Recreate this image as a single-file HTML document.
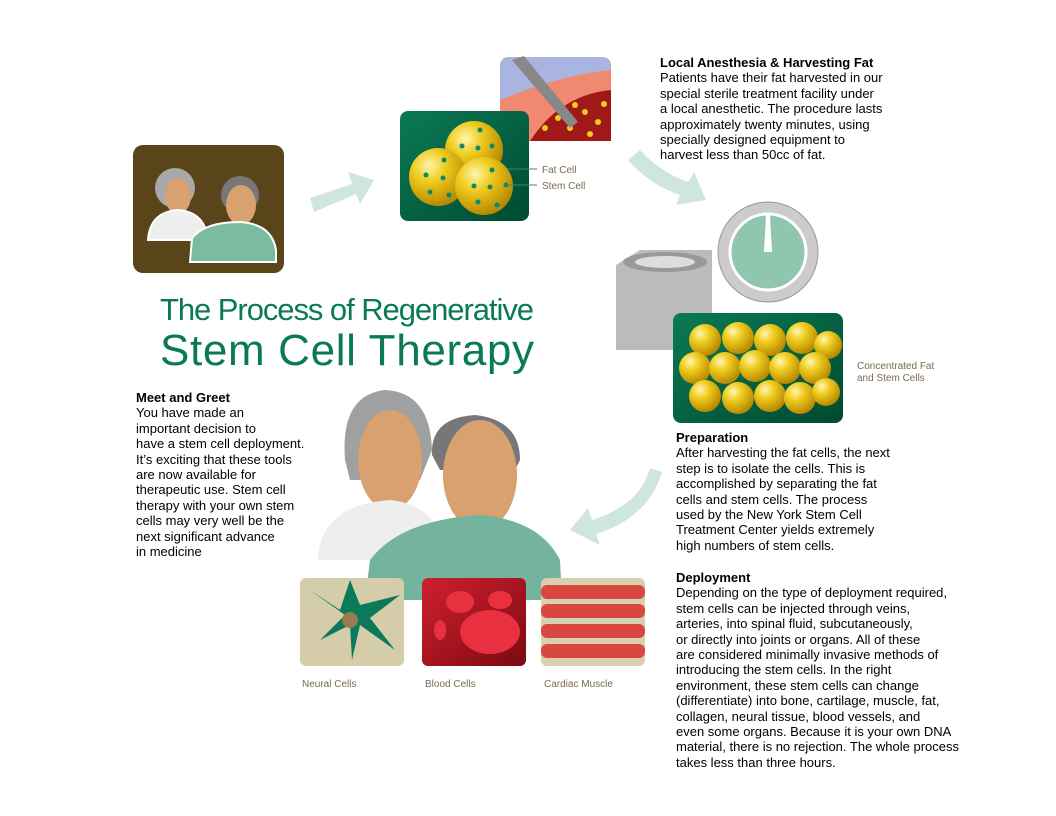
<!DOCTYPE html>
<html><head><meta charset="utf-8"><style>
body{margin:0;width:1056px;height:816px;background:#fff;position:relative;overflow:hidden;font-family:"Liberation Sans",sans-serif}
.t{position:absolute;font-size:13px;line-height:15.4px;color:#000;white-space:nowrap}
.t b{font-weight:bold}
svg{position:absolute;left:0;top:0}
</style></head><body>
<svg width="1056" height="816" viewBox="0 0 1056 816">
<defs>
<radialGradient id="y" cx="35%" cy="30%" r="70%"><stop offset="0" stop-color="#fff6b0"/><stop offset=".4" stop-color="#f0cc20"/><stop offset="1" stop-color="#b88a00"/></radialGradient>
<linearGradient id="g" x1="0" y1="0" x2="1" y2="1"><stop offset="0" stop-color="#0a7a55"/><stop offset="1" stop-color="#004a30"/></linearGradient>
<linearGradient id="r" x1="0" y1="0" x2="1" y2="1"><stop offset="0" stop-color="#d02030"/><stop offset="1" stop-color="#7a0a10"/></linearGradient>
</defs>
<!-- couple box -->
<rect x="133" y="145" width="151" height="128" rx="10" fill="#5a4419"/>
<circle cx="175" cy="188" r="20" fill="#a8a8a8"/><ellipse cx="178" cy="196" rx="13" ry="18" fill="#d9a070"/>
<path d="M148 240 Q150 212 178 210 Q205 212 208 240 Z" fill="#eee" stroke="#fff" stroke-width="2"/>
<circle cx="240" cy="195" r="19" fill="#777"/><ellipse cx="241" cy="205" rx="15" ry="20" fill="#d9a070"/>
<path d="M190 262 L192 238 Q205 222 240 222 Q272 224 276 250 L276 262 Z" fill="#7bbba2" stroke="#fff" stroke-width="2"/>
<!-- arrow 1 -->
<polygon points="310,198 352,184 348,172 374,180 360,204 356,194 314,212" fill="#cfe5df"/>
<!-- needle box -->
<rect x="500" y="57" width="111" height="84" rx="8" fill="#aab4e0"/>
<path d="M500 100 Q560 75 611 70 L611 141 L500 141 Z" fill="#ef8a70"/>
<path d="M530 141 Q560 95 611 90 L611 141 Z" fill="#a01818"/>
<g fill="#f0cc20"><circle cx="545" cy="128" r="3"/><circle cx="558" cy="118" r="3"/><circle cx="570" cy="128" r="3"/><circle cx="585" cy="112" r="3"/><circle cx="598" cy="122" r="3"/><circle cx="590" cy="134" r="3"/><circle cx="604" cy="104" r="3"/><circle cx="575" cy="105" r="3"/></g>
<polygon points="512,60 524,56 578,122 570,128" fill="#888"/>
<!-- fat cell box -->
<rect x="400" y="111" width="129" height="110" rx="8" fill="url(#g)"/>
<circle cx="474" cy="150" r="29" fill="url(#y)"/><circle cx="438" cy="177" r="29" fill="url(#y)"/><circle cx="484" cy="186" r="29" fill="url(#y)"/>
<g fill="#0a8a6a"><circle cx="480" cy="130" r="2.5"/><circle cx="462" cy="146" r="2.5"/><circle cx="478" cy="148" r="2.5"/><circle cx="492" cy="146" r="2.5"/><circle cx="444" cy="160" r="2.5"/><circle cx="426" cy="175" r="2.5"/><circle cx="443" cy="178" r="2.5"/><circle cx="430" cy="192" r="2.5"/><circle cx="449" cy="195" r="2.5"/><circle cx="492" cy="170" r="2.5"/><circle cx="474" cy="186" r="2.5"/><circle cx="490" cy="187" r="2.5"/><circle cx="506" cy="185" r="2.5"/><circle cx="478" cy="202" r="2.5"/><circle cx="497" cy="205" r="2.5"/></g>
<line x1="508" y1="169" x2="537" y2="169" stroke="#2a8a7a"/><line x1="506" y1="185" x2="537" y2="185" stroke="#2a8a7a"/>
<text x="542" y="173" font-size="10" fill="#7a6a50" font-family="Liberation Sans">Fat Cell</text>
<text x="542" y="189" font-size="10" fill="#7a6a50" font-family="Liberation Sans">Stem Cell</text>
<!-- arrow 2 -->
<path d="M628 160 Q650 185 680 195 L676 205 L706 200 L694 172 L688 182 Q660 172 640 150 Z" fill="#cfe5df"/>
<!-- timer -->
<circle cx="768" cy="252" r="50" fill="#ccc" stroke="#999"/><circle cx="768" cy="252" r="38" fill="#8ec6b0" stroke="#fff" stroke-width="3"/>
<polygon points="766,215 770,215 772,252 764,252" fill="#fff"/>
<!-- centrifuge -->
<polygon points="616,265 640,250 712,250 712,350 616,350" fill="#bbb"/><ellipse cx="665" cy="262" rx="42" ry="10" fill="#999"/><ellipse cx="665" cy="262" rx="30" ry="6" fill="#ddd"/>
<!-- concentrated box -->
<rect x="673" y="313" width="170" height="110" rx="8" fill="url(#g)"/>
<g fill="url(#y)">
<circle cx="705" cy="340" r="16"/><circle cx="738" cy="338" r="16"/><circle cx="770" cy="340" r="16"/><circle cx="802" cy="338" r="16"/><circle cx="828" cy="345" r="14"/>
<circle cx="695" cy="368" r="16"/><circle cx="725" cy="368" r="16"/><circle cx="755" cy="366" r="16"/><circle cx="785" cy="368" r="16"/><circle cx="815" cy="368" r="16"/>
<circle cx="705" cy="396" r="16"/><circle cx="738" cy="398" r="16"/><circle cx="770" cy="396" r="16"/><circle cx="800" cy="398" r="16"/><circle cx="826" cy="392" r="14"/></g>
<text x="857" y="369" font-size="10" fill="#7a6a50" font-family="Liberation Sans">Concentrated Fat</text>
<text x="857" y="381" font-size="10" fill="#7a6a50" font-family="Liberation Sans">and Stem Cells</text>
<!-- arrow 3 -->
<path d="M650 468 Q640 505 592 520 L588 508 L570 530 L600 545 L596 534 Q648 518 662 472 Z" fill="#cfe5df"/>
<!-- title -->
<text x="160" y="320" font-size="31" fill="#0a7a55" font-family="Liberation Sans" textLength="374">The Process of Regenerative</text>
<text x="160" y="365" font-size="44" fill="#0a7a55" font-family="Liberation Sans" textLength="374">Stem Cell Therapy</text>
<!-- big couple -->
<path d="M345 460 Q340 395 385 390 Q430 392 432 450 L420 480 L350 480 Z" fill="#a0a0a0"/>
<ellipse cx="390" cy="460" rx="32" ry="50" fill="#d9a070"/>
<path d="M318 560 Q320 505 390 500 Q440 505 450 560 Z" fill="#eee"/>
<path d="M432 455 Q430 418 475 415 Q520 420 520 460 L515 470 L440 470 Z" fill="#777"/>
<ellipse cx="480" cy="475" rx="37" ry="55" fill="#d9a070"/>
<path d="M365 600 L370 560 Q400 520 480 515 Q540 520 560 560 L562 600 Z" fill="#74b49c"/>
<!-- bottom tiles -->
<rect x="300" y="578" width="104" height="88" rx="6" fill="#d5ccaa"/>
<path d="M310 590 L345 615 L320 640 L350 625 L352 660 L360 625 L395 650 L370 618 L400 595 L360 605 L350 580 L340 610 Z" fill="#0a7a5a"/><circle cx="350" cy="620" r="8" fill="#9a7a50"/>
<rect x="422" y="578" width="104" height="88" rx="6" fill="url(#r)"/>
<ellipse cx="490" cy="632" rx="30" ry="22" fill="#e83040"/><ellipse cx="460" cy="602" rx="14" ry="11" fill="#e83040"/><ellipse cx="500" cy="600" rx="12" ry="9" fill="#e83040"/><ellipse cx="440" cy="630" rx="6" ry="10" fill="#e83040"/>
<rect x="541" y="578" width="104" height="88" rx="6" fill="#d8d0b0"/>
<g fill="#d84840"><rect x="541" y="585" width="104" height="14" rx="6"/><rect x="541" y="604" width="104" height="14" rx="6"/><rect x="541" y="624" width="104" height="14" rx="6"/><rect x="541" y="644" width="104" height="14" rx="6"/></g>
<text x="302" y="687" font-size="10" fill="#7a6a50" font-family="Liberation Sans">Neural Cells</text>
<text x="425" y="687" font-size="10" fill="#7a6a50" font-family="Liberation Sans">Blood Cells</text>
<text x="544" y="687" font-size="10" fill="#7a6a50" font-family="Liberation Sans">Cardiac Muscle</text>
</svg>
<div class="t" style="left:660px;top:55px"><b>Local Anesthesia &amp; Harvesting Fat</b><br>Patients have their fat harvested in our<br>special sterile treatment facility under<br>a local anesthetic. The procedure lasts<br>approximately twenty minutes, using<br>specially designed equipment to<br>harvest less than 50cc of fat.</div>
<div class="t" style="left:136px;top:390px"><b>Meet and Greet</b><br>You have made an<br>important decision to<br>have a stem cell deployment.<br>It’s exciting that these tools<br>are now available for<br>therapeutic use. Stem cell<br>therapy with your own stem<br>cells may very well be the<br>next significant advance<br>in medicine</div>
<div class="t" style="left:676px;top:430px"><b>Preparation</b><br>After harvesting the fat cells, the next<br>step is to isolate the cells. This is<br>accomplished by separating the fat<br>cells and stem cells. The process<br>used by the New York Stem Cell<br>Treatment Center yields extremely<br>high numbers of stem cells.</div>
<div class="t" style="left:676px;top:570px"><b>Deployment</b><br>Depending on the type of deployment required,<br>stem cells can be injected through veins,<br>arteries, into spinal fluid, subcutaneously,<br>or directly into joints or organs. All of these<br>are considered minimally invasive methods of<br>introducing the stem cells. In the right<br>environment, these stem cells can change<br>(differentiate) into bone, cartilage, muscle, fat,<br>collagen, neural tissue, blood vessels, and<br>even some organs. Because it is your own DNA<br>material, there is no rejection. The whole process<br>takes less than three hours.</div>
</body></html>
